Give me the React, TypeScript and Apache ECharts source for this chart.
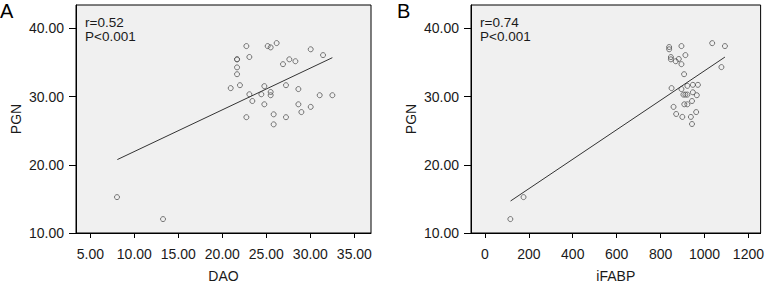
import React, { useEffect, useRef } from 'react';
import * as echarts from 'echarts';

// Panel A: DAO vs PGN
const daoValues = [8.03, 13.26, 20.95, 22.0, 21.67, 21.67, 21.67, 21.67, 22.73, 23.07, 23.07, 23.41, 22.73, 24.43, 24.77, 24.77, 25.49, 25.49, 25.83, 25.83, 25.15, 25.49, 26.17, 26.89, 27.61, 28.3, 27.23, 27.23, 28.64, 28.64, 28.98, 30.04, 30.04, 31.06, 31.44, 32.5];
const pgnA = [15.26, 12.04, 31.23, 31.66, 35.45, 35.45, 34.27, 33.27, 37.39, 35.79, 30.33, 29.34, 26.97, 30.33, 31.52, 28.86, 30.66, 30.19, 27.39, 25.92, 37.39, 37.2, 37.83, 34.74, 35.45, 35.17, 31.66, 26.97, 31.09, 28.86, 27.72, 36.92, 28.48, 30.19, 36.07, 30.19];
const fitAX = [8.07, 32.5];
const fitAY = [20.76, 35.69];

// Panel B: iFABP vs PGN
const ifabpValues = [116, 176, 839, 839, 847, 847, 883, 869, 895, 895, 913, 907, 850, 895, 922, 947, 970, 947, 965, 904, 913, 922, 943, 908, 922, 859, 871, 899, 938, 962, 943, 1035, 1093, 1077];
const pgnB = [12.04, 15.26, 37.25, 36.92, 35.78, 35.45, 35.5, 35.17, 34.74, 37.39, 36.07, 33.27, 31.23, 31.09, 31.56, 31.71, 31.71, 30.62, 30.19, 30.28, 30.28, 30.28, 29.34, 28.86, 28.86, 28.48, 27.44, 27.01, 27.01, 27.72, 25.97, 37.82, 37.39, 34.31];
const fitBX = [117, 1093];
const fitBY = [14.69, 35.78];

const yTicks = [10, 20, 30, 40];
const xTicksA = [5, 10, 15, 20, 25, 30, 35];
const xTicksB = [0, 200, 400, 600, 800, 1000, 1200];

const statsA = ['r=0.52', 'P<0.001'];
const statsB = ['r=0.74', 'P<0.001'];

const FONT = '"Liberation Sans", Arial, Helvetica, sans-serif';

export default function App() {
  const ref = useRef<HTMLDivElement>(null);
  useEffect(() => {
    if (!ref.current) return;
    const chart = echarts.init(ref.current, null, { renderer: 'svg' });
    const labelStyle = { color: '#1a1a1a', fontSize: 14, fontFamily: FONT };
    const xAxis = (gridIndex: number, min: number, max: number, ticks: number[], dec: number, name: string) => ({
      type: 'value', gridIndex, min, max, name, nameLocation: 'middle', nameGap: 36,
      nameTextStyle: { ...labelStyle },
      axisLine: { show: true, onZero: false, lineStyle: { color: '#000', width: 1 } },
      splitLine: { show: false },
      axisTick: { show: true, inside: false, length: 5, lineStyle: { color: '#000' }, customValues: ticks },
      axisLabel: { ...labelStyle, margin: 14, customValues: ticks, formatter: (v: number) => v.toFixed(dec) },
    });
    const yAxis = (gridIndex: number) => ({
      type: 'value', gridIndex, min: 10, max: 43.41, name: 'PGN', nameLocation: 'middle', nameGap: 53,
      nameTextStyle: { ...labelStyle },
      axisLine: { show: true, onZero: false, lineStyle: { color: '#000', width: 1 } },
      splitLine: { show: false },
      axisTick: { show: true, inside: false, length: 7, lineStyle: { color: '#000' }, customValues: yTicks },
      axisLabel: { ...labelStyle, margin: 12, customValues: yTicks, formatter: (v: number) => v.toFixed(2) },
    });
    const pointStyle = { color: 'rgba(0,0,0,0)', borderColor: '#555', borderWidth: 1 };
    const gridStyle = { show: true, backgroundColor: '#f0f0f0', borderColor: '#000', borderWidth: 1, containLabel: false };
    const statText = (x: number, lines: string[]) =>
      lines.map((t, i) => ({
        type: 'text', x, y: 15 + i * 14.5, z: 100,
        style: { text: t, fontSize: 13.5, fontFamily: FONT, fill: '#1a1a1a' },
      }));
    chart.setOption({
      animation: false,
      backgroundColor: '#fff',
      grid: [
        { ...gridStyle, left: 76, top: 5, width: 295, height: 235 },
        { ...gridStyle, left: 471, top: 5, width: 292, height: 235 },
      ],
      xAxis: [
        xAxis(0, 3.372, 36.89, xTicksA, 2, 'DAO'),
        xAxis(1, -63.2, 1255.5, xTicksB, 0, 'iFABP'),
      ],
      yAxis: [yAxis(0), yAxis(1)],
      graphic: [
        { type: 'text', x: 0, y: 1, style: { text: 'A', fontSize: 20, fontFamily: FONT, fill: '#000' } },
        { type: 'text', x: 397, y: 1, style: { text: 'B', fontSize: 20, fontFamily: FONT, fill: '#000' } },
        ...statText(85, statsA),
        ...statText(480, statsB),
      ],
      series: [
        {
          type: 'scatter', xAxisIndex: 0, yAxisIndex: 0, symbol: 'circle', symbolSize: 5,
          itemStyle: pointStyle, data: daoValues.map((x, i) => [x, pgnA[i]]),
        },
        {
          type: 'line', xAxisIndex: 0, yAxisIndex: 0, showSymbol: false, symbol: 'none',
          lineStyle: { color: '#333', width: 1 }, data: fitAX.map((x, i) => [x, fitAY[i]]),
        },
        {
          type: 'scatter', xAxisIndex: 1, yAxisIndex: 1, symbol: 'circle', symbolSize: 5,
          itemStyle: pointStyle, data: ifabpValues.map((x, i) => [x, pgnB[i]]),
        },
        {
          type: 'line', xAxisIndex: 1, yAxisIndex: 1, showSymbol: false, symbol: 'none',
          lineStyle: { color: '#333', width: 1 }, data: fitBX.map((x, i) => [x, fitBY[i]]),
        },
      ],
    });
    return () => chart.dispose();
  }, []);
  return <div ref={ref} style={{ width: 767, height: 288, position: 'absolute', left: 0, top: 0 }} />;
}
